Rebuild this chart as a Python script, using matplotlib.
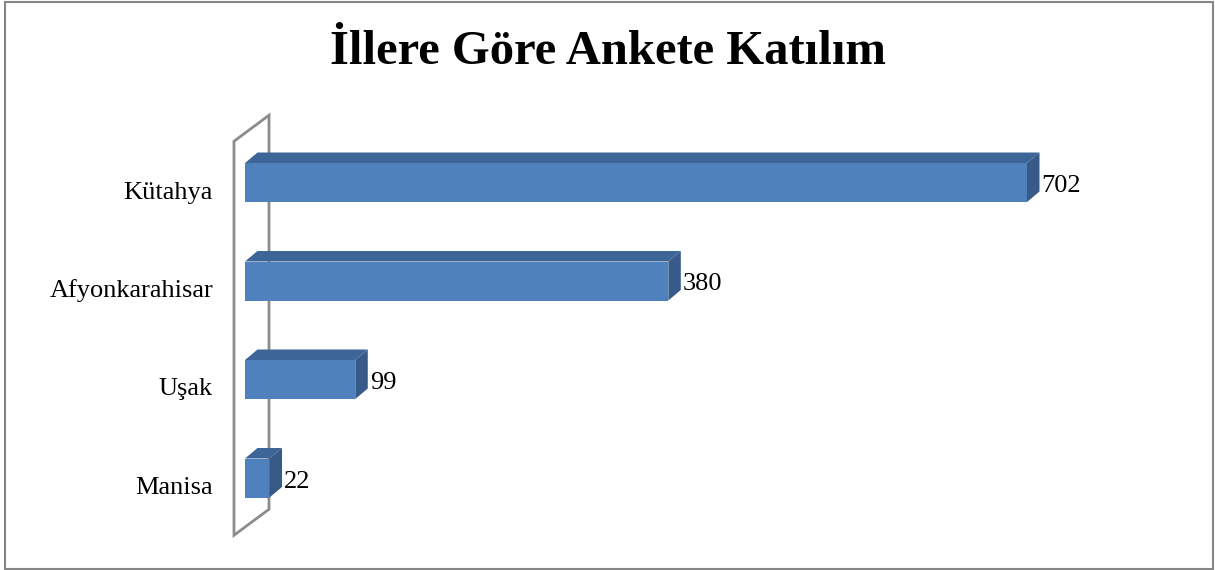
import matplotlib.pyplot as plt
from matplotlib.patches import Polygon, Rectangle

cities = ["Manisa", "Uşak", "Afyonkarahisar", "Kütahya"]
counts = [22, 99, 380, 702]
title = "İllere Göre Ankete Katılım"

FRONT = "#4F81BD"
TOP = "#3E6597"
SIDE = "#375A88"
WALL = "#8C8C8C"

W, H = 1215, 570
plt.rcParams['font.family'] = ['Liberation Serif', 'DejaVu Serif']
fig = plt.figure(figsize=(W / 100, H / 100), dpi=100)

# pixel spots of value 0 / max value and of the first / last category
x0, x1 = 245, 1027
y0, y1 = 478, 182.5
ax = fig.add_axes([x0 / W, 1 - y0 / H, (x1 - x0) / W, (y0 - y1) / H])
ax.set_xlim(0, max(counts))
ax.set_ylim(0, len(cities) - 1)
ax.axis('off')

# data units per pixel
px_x = max(counts) / (x1 - x0)
px_y = (len(cities) - 1) / (y0 - y1)

# back wall (a flat panel at x=0, seen in perspective)
lo, hi = -0.5, len(cities) - 0.5
fx, fy = -11 * px_x, -8 * px_y
bx, by = 24 * px_x, 18 * px_y
wall = Polygon([(fx, lo + fy), (fx, hi + fy), (bx, hi + by), (bx, lo + by)],
               closed=True, fill=False, ec=WALL, lw=2, zorder=1, clip_on=False)
ax.add_patch(wall)

h = 19.5 * px_y
ddx, ddy = 12.5 * px_x, 10.5 * px_y
for i, (name, v) in enumerate(zip(cities, counts)):
    ax.add_patch(Rectangle((0, i - h), v, 2 * h, fc=FRONT, ec='none',
                           zorder=3, clip_on=False))
    ax.add_patch(Polygon([(0, i + h), (v, i + h), (v + ddx, i + h + ddy), (ddx, i + h + ddy)],
                         fc=TOP, ec='none', zorder=3, clip_on=False))
    ax.add_patch(Polygon([(v, i - h), (v + ddx, i - h + ddy), (v + ddx, i + h + ddy), (v, i + h)],
                         fc=SIDE, ec='none', zorder=3, clip_on=False))
    ax.text(v + ddx + 2 * px_x, i - 9.5 * px_y, str(v), ha='left', va='baseline',
            fontsize=19, color='black')
    ax.text(-32 * px_x, i - 16 * px_y, name, ha='right', va='baseline',
            fontsize=19, color='black')

fig.text(608 / W, 1 - 64 / H, title, ha='center', va='baseline',
         fontsize=35, weight='bold')

fig.add_artist(Rectangle((5 / W, 1 / H), 1208 / W, 567 / H, transform=fig.transFigure,
                         fill=False, ec='#868686', lw=1.5))

fig.savefig("out.png", dpi=100)
